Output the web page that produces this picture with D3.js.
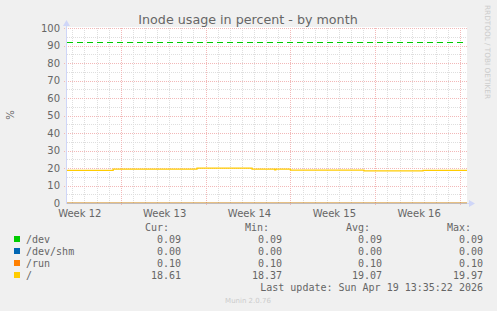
<!DOCTYPE html>
<html>
<head>
<meta charset="utf-8">
<script src="https://cdn.jsdelivr.net/npm/d3@7"></script>
<style>
  body { margin: 0; background: #f0f0f0; }
  svg { display: block; }
  text { font-family: "DejaVu Sans", sans-serif; fill: #666; }
  .mono { font-family: "DejaVu Sans Mono", monospace; }
</style>
</head>
<body>
<div id="chart"></div>
<script>
const W = 497, H = 311;

// ---- data ----
const lastUpdate = new Date(Date.UTC(2026, 3, 19, 13, 35, 22));
const spanDays = 33;
const yTicks = [0, 10, 20, 30, 40, 50, 60, 70, 80, 90, 100];
const weekLabels = ["Week 12", "Week 13", "Week 14", "Week 15", "Week 16"];
const warnLevel = 92;

const fsNames = ["/dev", "/dev/shm", "/run", "/"];
const fsColors = ["#00cc00", "#0066b3", "#ff8000", "#ffcc00"];
const curVals = ["0.09", "0.00", "0.10", "18.61"];
const minVals = ["0.09", "0.00", "0.10", "18.37"];
const avgVals = ["0.09", "0.00", "0.10", "19.07"];
const maxVals = ["0.09", "0.00", "0.10", "19.97"];

// step changes of "/" (time, value)
const rootTimes = ["2026-03-17T13:35", "2026-03-21T09:00", "2026-03-28T07:00", "2026-04-01T20:00",
                   "2026-04-03T17:00", "2026-04-03T19:00", "2026-04-05T00:00", "2026-04-11T01:30",
                   "2026-04-15T22:30", "2026-04-19T13:35"];
const rootVals = [18.7, 19.35, 19.97, 19.4, 19.0, 19.4, 18.75, 18.37, 18.61, 18.61];
const devVals = [0.09, 0.09];
const shmVals = [0.00, 0.00];
const runVals = [0.10, 0.10];

// ---- layout ----
const plot = {left: 67, right: 467, top: 28, bottom: 203};

const svg = d3.select("#chart").append("svg")
  .attr("width", W).attr("height", H);

svg.append("rect").attr("width", W).attr("height", H).attr("fill", "#f0f0f0");

const t0 = new Date(lastUpdate.getTime() - spanDays * 86400000);
const x = d3.scaleUtc().domain([t0, lastUpdate]).range([plot.left, plot.right]);
const y = d3.scaleLinear().domain([0, 100]).range([plot.bottom, plot.top]);

// canvas
svg.append("rect")
  .attr("x", plot.left - 1).attr("y", plot.top - 1)
  .attr("width", plot.right - plot.left + 1).attr("height", plot.bottom - plot.top + 1)
  .attr("fill", "#fff");

const grid = svg.append("g").attr("stroke-dasharray", "1,1").attr("stroke-width", 1);

// minor grid
const days = d3.utcDay.range(d3.utcDay.ceil(t0), lastUpdate);
grid.selectAll(".vmin").data(days).join("line")
  .attr("x1", d => Math.round(x(d)) + 0.5).attr("x2", d => Math.round(x(d)) + 0.5)
  .attr("y1", plot.top).attr("y2", plot.bottom)
  .attr("stroke", "#dedede");
const fives = d3.range(5, 100, 10);
grid.selectAll(".hmin").data(fives).join("line")
  .attr("x1", plot.left).attr("x2", plot.right)
  .attr("y1", d => Math.round(y(d)) + 0.5).attr("y2", d => Math.round(y(d)) + 0.5)
  .attr("stroke", "#dedede");

// major grid
const weeks = d3.utcSunday.range(d3.utcSunday.ceil(t0), lastUpdate);
grid.selectAll(".vmaj").data(weeks).join("line")
  .attr("x1", d => Math.round(x(d)) + 0.5).attr("x2", d => Math.round(x(d)) + 0.5)
  .attr("y1", plot.top).attr("y2", plot.bottom + 3)
  .attr("stroke", "#f2b8b8");
grid.selectAll(".hmaj").data(yTicks.slice(1)).join("line")
  .attr("x1", plot.left - 3).attr("x2", plot.right)
  .attr("y1", d => Math.round(y(d)) + 0.5).attr("y2", d => Math.round(y(d)) + 0.5)
  .attr("stroke", "#f2b8b8");

// axes lines + arrows
svg.append("line")
  .attr("x1", plot.left - 0.5).attr("x2", plot.left - 0.5)
  .attr("y1", plot.bottom).attr("y2", plot.top - 4)
  .attr("stroke", "#cfd6f8");
svg.append("line")
  .attr("x1", plot.left - 1).attr("x2", plot.right + 4)
  .attr("y1", plot.bottom + 0.5).attr("y2", plot.bottom + 0.5)
  .attr("stroke", "#cfd6f8");
svg.append("path")
  .attr("d", `M${plot.left - 4},${plot.top - 2} L${plot.left - 0.5},${plot.top - 8} L${plot.left + 3},${plot.top - 2} Z`)
  .attr("fill", "#cfd6f8");
svg.append("path")
  .attr("d", `M${plot.right + 2},${plot.bottom - 3} L${plot.right + 8},${plot.bottom + 0.5} L${plot.right + 2},${plot.bottom + 4} Z`)
  .attr("fill", "#cfd6f8");

// warning line
svg.append("line")
  .attr("x1", plot.left).attr("x2", plot.right)
  .attr("y1", Math.round(y(warnLevel)) + 0.5).attr("y2", Math.round(y(warnLevel)) + 0.5)
  .attr("stroke", fsColors[0]).attr("stroke-width", 1.2)
  .attr("stroke-dasharray", "6,4");

// series
const line = d3.line().curve(d3.curveStepAfter).x(d => x(d[0])).y(d => y(d[1]));
const flat = vals => [[t0, vals[0]], [lastUpdate, vals[1]]];
const series = [flat(devVals), flat(shmVals), flat(runVals),
  rootTimes.map((t, i) => [new Date(t + ":00Z"), rootVals[i]])];
const opac = [0.15, 0.15, 0.6, 1];
svg.append("g").selectAll("path").data(series).join("path")
  .attr("d", line)
  .attr("fill", "none")
  .attr("stroke", (d, i) => fsColors[i])
  .attr("stroke-opacity", (d, i) => opac[i])
  .attr("stroke-width", (d, i) => i === 3 ? 1.3 : 1);

// y labels
svg.append("g").selectAll("text").data(yTicks).join("text")
  .attr("x", plot.left - 7).attr("y", d => y(d) + 3.5)
  .attr("text-anchor", "end")
  .attr("font-size", 10)
  .text(d => d);

// x labels (centred on each week)
const mids = weeks.map(d => d3.utcHour.offset(d, -84));
svg.append("g").selectAll("text").data(weekLabels).join("text")
  .attr("x", (d, i) => x(mids[i]) + 1.5)
  .attr("y", plot.bottom + 13.5)
  .attr("text-anchor", "middle")
  .attr("font-size", 10)
  .text(d => d);

// title and axis title
svg.append("text")
  .attr("x", 248).attr("y", 24)
  .attr("text-anchor", "middle")
  .attr("font-size", 12.7)
  .text("Inode usage in percent - by month");
svg.append("text")
  .attr("transform", "translate(14,115) rotate(-90)")
  .attr("text-anchor", "middle")
  .attr("font-size", 10)
  .text("%");

// side credits
svg.append("text")
  .attr("transform", "translate(485,5) rotate(90)")
  .attr("font-size", 7.3)
  .style("fill", "#ccc")
  .text("RRDTOOL / TOBI OETIKER");
svg.append("text")
  .attr("x", 248).attr("y", 303)
  .attr("text-anchor", "middle")
  .attr("font-size", 7)
  .style("fill", "#ccc")
  .text("Munin 2.0.76");

// legend
const leg = svg.append("g").attr("class", "mono").attr("font-size", 10);
const heads = [["Cur:", 145], ["Min:", 245], ["Avg:", 346], ["Max:", 447]];
leg.selectAll(".hd").data(heads).join("text")
  .attr("class", "mono")
  .attr("x", d => d[1]).attr("y", 231)
  .text(d => d[0]);

const rowY = i => 243 + i * 12;
leg.selectAll("rect").data(fsNames).join("rect")
  .attr("x", 14).attr("y", (d, i) => rowY(i) - 7)
  .attr("width", 6).attr("height", 6)
  .attr("fill", (d, i) => fsColors[i]);
leg.selectAll(".nm").data(fsNames).join("text")
  .attr("class", "mono")
  .attr("x", 26).attr("y", (d, i) => rowY(i))
  .text(d => d);

const cols = [[curVals, 181], [minVals, 282], [avgVals, 382], [maxVals, 483]];
cols.forEach(([vals, xr]) => {
  leg.append("g").selectAll("text").data(vals).join("text")
    .attr("class", "mono")
    .attr("x", xr).attr("y", (d, i) => rowY(i))
    .attr("text-anchor", "end")
    .text(d => d);
});
leg.append("text")
  .attr("class", "mono")
  .attr("x", 483).attr("y", rowY(4))
  .attr("text-anchor", "end")
  .text("Last update: Sun Apr 19 13:35:22 2026");
</script>
</body>
</html>
